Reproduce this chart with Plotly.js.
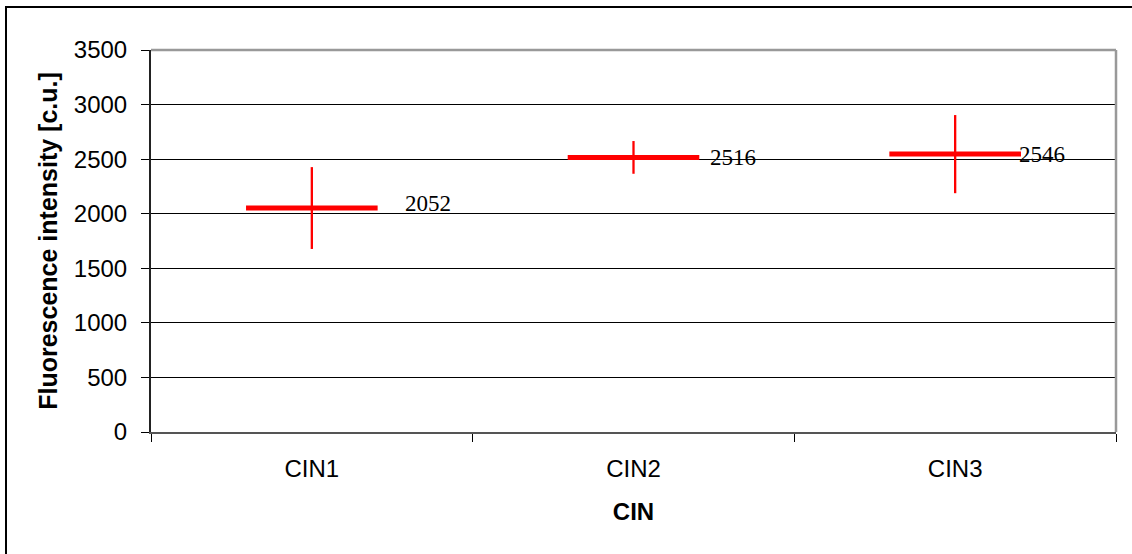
<!DOCTYPE html>
<html>
<head>
<meta charset="utf-8">
<script src="https://cdn.plot.ly/plotly-3.0.1.min.js"></script>
<style>
  html, body { margin: 0; padding: 0; background: #fff; }
  #chart { width: 1132px; height: 554px; }
</style>
</head>
<body>
<div id="chart"></div>
<script>
// ---- data ----
const categories = ['CIN1', 'CIN2', 'CIN3'];
const means = [2052, 2516, 2546];
const errors = [375, 150, 358];
const yTicks = [0, 500, 1000, 1500, 2000, 2500, 3000, 3500];

// ---- style (label pixel offsets) ----
const labelXShift = [91, 74, 62];
const labelYShift = [5, 0, 0];

const meanTrace = {
  type: 'scatter',
  mode: 'markers',
  x: categories,
  y: means,
  marker: {
    symbol: 'line-ew',
    size: 94,
    color: '#ff0000',
    line: { color: '#ff0000', width: 5 }
  },
  error_y: {
    type: 'data',
    symmetric: true,
    array: errors,
    color: '#ff0000',
    thickness: 2.3,
    width: 0
  },
  showlegend: false,
  hoverinfo: 'x+y'
};

const annotations = categories.map((c, i) => ({
  x: c,
  y: means[i],
  xref: 'x',
  yref: 'y',
  text: String(means[i]),
  showarrow: false,
  xanchor: 'left',
  yanchor: 'middle',
  xshift: labelXShift[i],
  yshift: labelYShift[i],
  font: { family: 'Liberation Serif, Times New Roman, serif', size: 23, color: '#000' }
}));

// plot area pixel geometry: left 151, right 1116, top 50, bottom 432
const L = 151, R = 1116, T = 50, B = 432;
const px2x = p => (p - L) / (R - L);
const px2y = p => (B - p) / (B - T);

const layout = {
  width: 1132,
  height: 554,
  margin: { l: L, r: 1132 - R, t: T, b: 554 - B, pad: 0 },
  paper_bgcolor: '#fff',
  plot_bgcolor: '#fff',
  font: { family: 'Liberation Sans, Arial, sans-serif', size: 24, color: '#000' },
  xaxis: {
    type: 'category',
    categoryorder: 'array',
    categoryarray: categories,
    range: [-0.5, 2.5],
    tickson: 'boundaries',
    ticks: 'outside',
    ticklen: 8,
    tickwidth: 1,
    tickcolor: '#000',
    ticklabelstandoff: 14,
    showgrid: false,
    zeroline: false,
    showline: true,
    linecolor: '#555',
    linewidth: 2,
    tickfont: { family: 'Liberation Sans, Arial, sans-serif', size: 24, color: '#000' },
    title: {
      text: '<b>CIN</b>',
      standoff: 22,
      font: { family: 'Liberation Sans, Arial, sans-serif', size: 24, color: '#000' }
    },
    fixedrange: true
  },
  xaxis2: {
    overlaying: 'x',
    anchor: 'y',
    side: 'bottom',
    type: 'linear',
    range: [-0.5, 2.5],
    tickmode: 'array',
    tickvals: [-0.5, 0.5, 1.5, 2.5],
    ticks: 'inside',
    ticklen: 8,
    tickwidth: 1,
    tickcolor: '#000',
    showticklabels: false,
    showgrid: false,
    zeroline: false,
    showline: false,
    fixedrange: true
  },
  yaxis: {
    range: [0, 3500],
    tickmode: 'array',
    tickvals: yTicks,
    ticktext: yTicks.map(String),
    ticks: 'outside',
    ticklen: 8,
    tickwidth: 1,
    tickcolor: '#000',
    ticklabelstandoff: 9,
    showgrid: true,
    gridcolor: '#000',
    gridwidth: 1,
    zeroline: false,
    showline: true,
    linecolor: '#222',
    linewidth: 2,
    tickfont: { family: 'Liberation Sans, Arial, sans-serif', size: 24, color: '#000' },
    title: {
      text: '<b>Fluorescence intensity [c.u.]</b>',
      standoff: 9,
      font: { family: 'Liberation Sans, Arial, sans-serif', size: 25, color: '#000' }
    },
    fixedrange: true
  },
  shapes: [
    // gray plot border top & right
    { type: 'line', xref: 'paper', yref: 'paper', x0: 0, x1: 1, y0: 1, y1: 1,
      line: { color: '#999', width: 2.5 }, layer: 'above' },
    { type: 'line', xref: 'paper', yref: 'paper', x0: 1, x1: 1, y0: 0, y1: 1,
      line: { color: '#999', width: 2.5 }, layer: 'above' },
    // outer chart frame
    { type: 'rect', xref: 'paper', yref: 'paper',
      x0: px2x(6), x1: px2x(1145), y0: px2y(568), y1: px2y(7),
      line: { color: '#000', width: 2 }, fillcolor: 'rgba(0,0,0,0)', layer: 'above' }
  ],
  annotations: annotations,
  showlegend: false
};

Plotly.newPlot('chart', [meanTrace], layout, { displayModeBar: false, staticPlot: true });
</script>
</body>
</html>
